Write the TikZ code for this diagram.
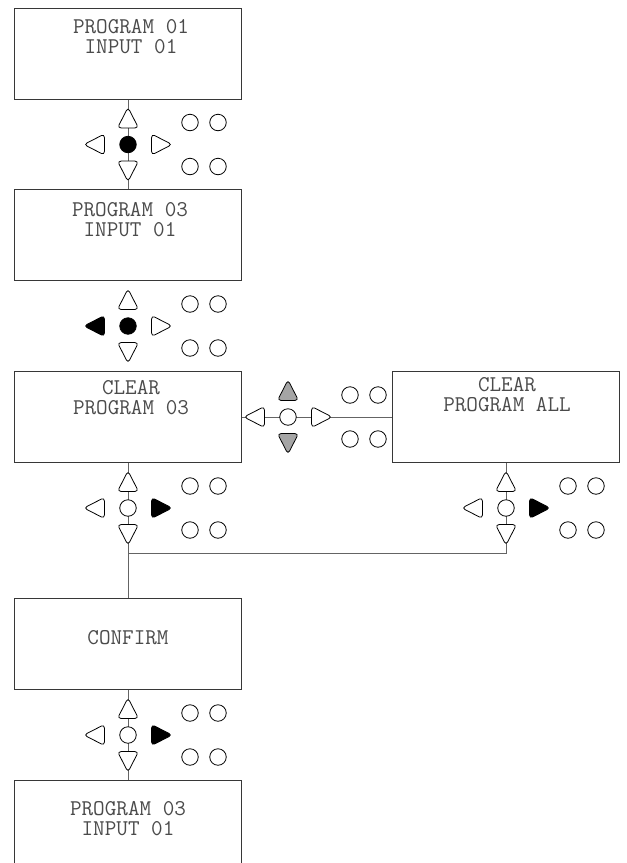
\documentclass[tikz,border=0pt]{standalone}
\usepackage{xcolor}
\usepackage{tikz}
\usetikzlibrary{shapes.geometric,positioning,calc}
\definecolor{lcdtext}{RGB}{75, 75, 75}
\definecolor{frame}{RGB}{55, 55, 55}
\definecolor{wiregray}{RGB}{100, 100, 100}
\definecolor{keygray}{RGB}{165, 165, 165}

\tikzset{
  screen/.style={draw=frame, line width=1pt, minimum width=227pt, minimum height=91pt, inner sep=0pt},
  lcd/.style={text=lcdtext, align=center, inner sep=0pt, font=\fontsize{22.5}{20.5}\selectfont\ttfamily},
  wire/.style={draw=wiregray, line width=1pt},
  led/.style={circle, draw=black, line width=0.8pt, fill=white, minimum size=16.5pt, inner sep=0pt},
  arrowkey/.style={isosceles triangle, isosceles triangle stretches, draw=black, line width=0.8pt,
    fill=white, minimum width=21pt, minimum height=20.5pt, inner sep=0pt, rounded corners=3.5pt},
}

% #1 name, #2 centre, #3 up, #4 centre key, #5 left, #6 right, #7 down
\newcommand{\keypad}[7]{%
  \coordinate (#1) at (#2);
  \node[arrowkey, shape border rotate=90, fill=#3] (#1-up) at ($(#1)+(0,-23)$) {};
  \node[arrowkey, shape border rotate=270, fill=#7] (#1-down) at ($(#1)+(0,23)$) {};
  \node[arrowkey, shape border rotate=180, fill=#5] (#1-left) at ($(#1)+(-30,0)$) {};
  \node[arrowkey, shape border rotate=0, fill=#6] (#1-right) at ($(#1)+(30,0)$) {};
  \node[led, fill=#4] (#1-ok) at (#1) {};
  \node[led] (#1-a) at ($(#1)+(62,-22)$) {};
  \node[led] (#1-b) at ($(#1)+(90,-22)$) {};
  \node[led] (#1-c) at ($(#1)+(62,22)$) {};
  \node[led] (#1-d) at ($(#1)+(90,22)$) {};
}

\begin{document}
\begin{tikzpicture}[x=1pt, y=-1pt]
    \useasboundingbox (0,0) rectangle (627,863);

    \node[screen] (prog1) at (128,53.5) {};
    \node[screen] (prog3) at (128,234.5) {};
    \node[screen] (clr3) at (128,417) {};
    \node[screen] (clrall) at (506,417) {};
    \node[screen] (confirm) at (128,643.5) {};
    \node[screen] (result) at (128,825.5) {};

    \node[lcd] (prog1-txt) at (131,36.5) {PROGRAM 01\\INPUT 01};
    \node[lcd] (prog3-txt) at (130,219.5) {PROGRAM 03\\INPUT 01};
    \node[lcd] (clr3-txt) at (131,397.5) {CLEAR\\PROGRAM 03};
    \node[lcd] (clrall-txt) at (507,394.5) {CLEAR\\PROGRAM ALL};
    \node[lcd] (confirm-txt) at (128,637.5) {CONFIRM};
    \node[lcd] (result-txt) at (128,818.5) {PROGRAM 03\\INPUT 01};

    \coordinate (join) at (128,553);
    \draw[wire] (prog1) -- (prog3);
    \draw[wire] (clr3) -- (clrall);
    \draw[wire] (clr3) -- (confirm);
    \draw[wire] (clrall) |- (join);
    \draw[wire] (confirm) -- (result);

    \keypad{padA}{128,144.5}{white}{black}{white}{white}{white}
    \keypad{padB}{128,326}{white}{black}{black}{white}{white}
    \keypad{padC}{288,417}{keygray}{white}{white}{white}{keygray}
    \keypad{padD}{128,508}{white}{white}{white}{black}{white}
    \keypad{padE}{506,508}{white}{white}{white}{black}{white}
    \keypad{padF}{128,735}{white}{white}{white}{black}{white}
\end{tikzpicture}
\end{document}
